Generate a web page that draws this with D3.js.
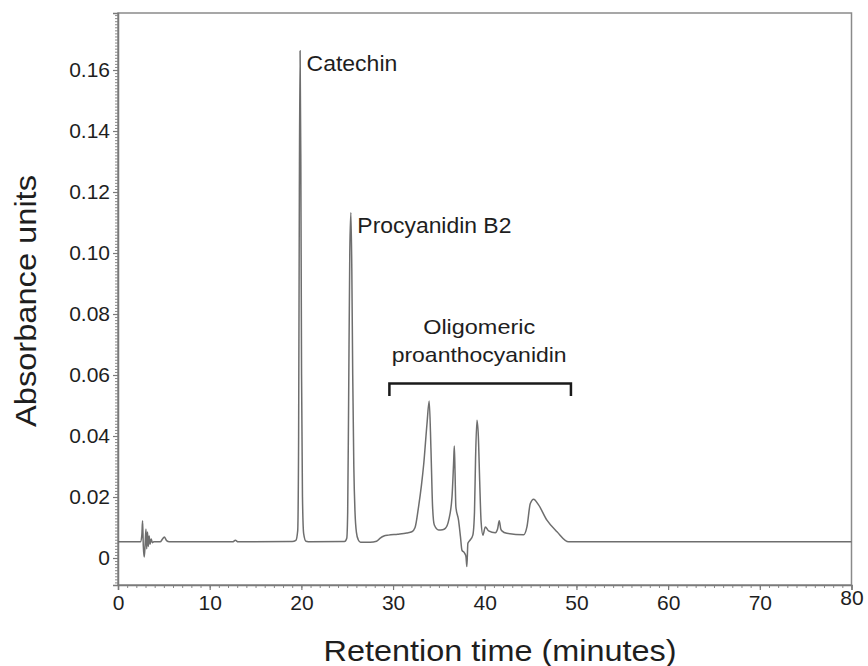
<!DOCTYPE html>
<html>
<head>
<meta charset="utf-8">
<script src="https://cdn.jsdelivr.net/npm/d3@7"></script>
<style>
  html, body { margin: 0; padding: 0; background: #fff; }
  svg { display: block; font-family: "Liberation Sans", Arial, Helvetica, sans-serif; }
</style>
</head>
<body>
<svg id="chart" width="868" height="666"></svg>
<script>
// ---- Data ----
const retentionTime = [
  0, 2.45, 2.6, 2.68, 2.76, 2.86, 2.95, 3.05, 3.13, 3.22, 3.3, 3.4, 3.5, 3.62, 3.75, 3.9,
  4.6, 4.85, 5.05, 5.3, 5.6, 12.5, 12.8, 13.1,
  19.0, 19.4, 19.6, 19.7, 19.78, 19.86, 19.94, 20.02, 20.12, 20.25, 20.5, 21.0,
  24.7, 24.95, 25.05, 25.15, 25.28, 25.4, 25.5, 25.6, 25.72, 25.85, 26.0, 26.2, 26.45,
  27.5, 28.2, 28.6, 29.0, 29.5, 30.5, 31.5, 32.05, 32.4, 32.78, 33.1, 33.35, 33.7, 33.94,
  34.13, 34.31, 34.5, 34.97, 35.4, 35.7, 36.07, 36.43, 36.6, 36.68, 36.76, 36.85,
  37.14, 37.35, 37.51, 37.8, 37.95, 38.05, 38.16, 38.41, 38.7, 38.88, 39.0, 39.15,
  39.3, 39.45, 39.6, 39.8, 40.06, 40.42, 41.15, 41.4, 41.58, 41.75, 41.87, 42.4,
  44.24, 44.6, 44.97, 45.33, 45.87, 46.78, 47.88, 49.15, 80
];
const absorbance = [
  0.0053, 0.0053, 0.0075, 0.0122, 0.004, 0.0003, 0.004, 0.0095, 0.003, 0.0085, 0.0038, 0.0072, 0.0045, 0.0062, 0.005, 0.0053,
  0.0053, 0.0062, 0.0069, 0.0057, 0.0053, 0.0053, 0.0058, 0.0053,
  0.0054, 0.0058, 0.009, 0.04, 0.12, 0.1663, 0.13, 0.06, 0.02, 0.008, 0.0055, 0.0053,
  0.0054, 0.0065, 0.015, 0.05, 0.1, 0.1133, 0.095, 0.06, 0.03, 0.015, 0.0085, 0.006, 0.0052,
  0.0052, 0.0055, 0.0065, 0.0072, 0.0075, 0.0078, 0.0082, 0.0086, 0.01, 0.0168, 0.024, 0.031, 0.044, 0.0515,
  0.036, 0.0168, 0.0108, 0.0092, 0.0093, 0.0097, 0.0124, 0.0201, 0.031, 0.0367, 0.028, 0.0168,
  0.0124, 0.007, 0.0026, 0.0016, 0.0005, -0.0028, 0.0048, 0.0059, 0.0075, 0.015, 0.033, 0.0452,
  0.04, 0.025, 0.012, 0.0075, 0.0102, 0.0089, 0.0083, 0.0095, 0.0122, 0.0095, 0.0089, 0.0081,
  0.0076, 0.0102, 0.0179, 0.0193, 0.0174, 0.0124, 0.0086, 0.0053, 0.0053
];

const xTicks = [0, 10, 20, 30, 40, 50, 60, 70, 80];
const yTicks = [0, 0.02, 0.04, 0.06, 0.08, 0.10, 0.12, 0.14, 0.16];

const peakLabels = ["Catechin", "Procyanidin B2"];
const peakTimes = [19.86, 25.4];
const peakValues = [0.1663, 0.1133];
const groupLabel = ["Oligomeric", "proanthocyanidin"];
const groupRange = [29.6, 49.4];
const groupLevel = 0.0572;

const xTitle = "Retention time (minutes)";
const yTitle = "Absorbance units";

// ---- Layout ----
const W = 868, H = 666;
const m = { left: 118, right: 16.5, top: 13, bottom: 81 };
const svg = d3.select("#chart");

const x = d3.scaleLinear().domain([0, 80]).range([m.left, W - m.right]);
const y = d3.scaleLinear().domain([-0.00885, 0.17869]).range([H - m.bottom, m.top]);

const axisColor = "#7a7a7a";
const textColor = "#1e1e1e";

// frame
svg.append("rect")
  .attr("x", m.left).attr("y", m.top)
  .attr("width", W - m.left - m.right).attr("height", H - m.top - m.bottom)
  .attr("fill", "none").attr("stroke", "#8a8a8a").attr("stroke-width", 1.5);

// minor ticks
const yMinor = d3.range(-8, 179).map(i => i / 1000);
svg.append("g").attr("transform", `translate(${m.left},0)`)
  .call(d3.axisLeft(y).tickValues(yMinor).tickSize(3).tickFormat(""))
  .call(g => g.select(".domain").remove())
  .call(g => g.selectAll("line").attr("stroke", "#8a8a8a").attr("stroke-width", 1));

const xMinor = d3.range(0, 81);
svg.append("g").attr("transform", `translate(0,${H - m.bottom})`)
  .call(d3.axisBottom(x).tickValues(xMinor).tickSize(3).tickFormat(""))
  .call(g => g.select(".domain").remove())
  .call(g => g.selectAll("line").attr("stroke", "#8a8a8a").attr("stroke-width", 1));

// major axes
const yAxis = svg.append("g").attr("transform", `translate(${m.left},0)`)
  .call(d3.axisLeft(y).tickValues(yTicks).tickSize(5).tickPadding(3)
    .tickFormat(d => d === 0 ? "0" : d3.format(".2f")(d)));
yAxis.select(".domain").attr("stroke", axisColor).attr("stroke-width", 1.5);
yAxis.selectAll("line").attr("stroke", axisColor).attr("stroke-width", 1.2);
yAxis.selectAll("text").attr("fill", textColor).style("font-size", "21px")
  .style("font-family", '"Liberation Sans", Arial, sans-serif');

const xAxis = svg.append("g").attr("transform", `translate(0,${H - m.bottom})`)
  .call(d3.axisBottom(x).tickValues(xTicks).tickSize(5).tickPadding(5).tickFormat(d3.format("d")));
xAxis.select(".domain").attr("stroke", axisColor).attr("stroke-width", 1.5);
xAxis.selectAll("line").attr("stroke", axisColor).attr("stroke-width", 1.2);
xAxis.selectAll("text").attr("fill", textColor).style("font-size", "21px")
  .style("font-family", '"Liberation Sans", Arial, sans-serif');
xAxis.selectAll(".tick").filter(d => d === 80).select("text").attr("y", 5);

// trace
const pts = retentionTime.map((t, i) => [t, absorbance[i]]);
const line = d3.line().x(d => x(d[0])).y(d => y(d[1])).curve(d3.curveMonotoneX);
svg.append("path").datum(pts)
  .attr("d", line)
  .attr("fill", "none")
  .attr("stroke", "#6e6e6e")
  .attr("stroke-width", 1.5)
  .attr("stroke-linejoin", "round");

// peak labels
const peakLabelWidths = [90.7, 154];
svg.selectAll(".peak-label").data(peakLabels).join("text")
  .attr("class", "peak-label")
  .attr("x", (d, i) => x(peakTimes[i]) + 6.5)
  .attr("y", (d, i) => y(peakValues[i]) + 20.5)
  .attr("textLength", (d, i) => peakLabelWidths[i])
  .attr("lengthAdjust", "spacingAndGlyphs")
  .attr("fill", textColor)
  .style("font-size", "22px")
  .text(d => d);

// group bracket
const bx0 = x(groupRange[0]), bx1 = x(groupRange[1]), by = y(groupLevel);
svg.append("path")
  .attr("d", `M${bx0},${by + 12.5}V${by}H${bx1}V${by + 12.5}`)
  .attr("fill", "none").attr("stroke", "#1a1a1a").attr("stroke-width", 2.5);

const groupWidths = [112, 175];
svg.selectAll(".group-label").data(groupLabel).join("text")
  .attr("class", "group-label")
  .attr("x", (bx0 + bx1) / 2 - 1)
  .attr("y", (d, i) => by - 50 + i * 28.5)
  .attr("text-anchor", "middle")
  .attr("textLength", (d, i) => groupWidths[i])
  .attr("lengthAdjust", "spacingAndGlyphs")
  .attr("fill", textColor)
  .style("font-size", "21px")
  .text(d => d);

// axis titles
svg.append("text")
  .attr("x", 500).attr("y", 661)
  .attr("text-anchor", "middle")
  .attr("textLength", 353).attr("lengthAdjust", "spacingAndGlyphs")
  .attr("fill", textColor)
  .style("font-size", "30px")
  .text(xTitle);

svg.append("text")
  .attr("transform", "translate(36,301) rotate(-90)")
  .attr("text-anchor", "middle")
  .attr("textLength", 252).attr("lengthAdjust", "spacingAndGlyphs")
  .attr("fill", textColor)
  .style("font-size", "29px")
  .text(yTitle);
</script>
</body>
</html>
